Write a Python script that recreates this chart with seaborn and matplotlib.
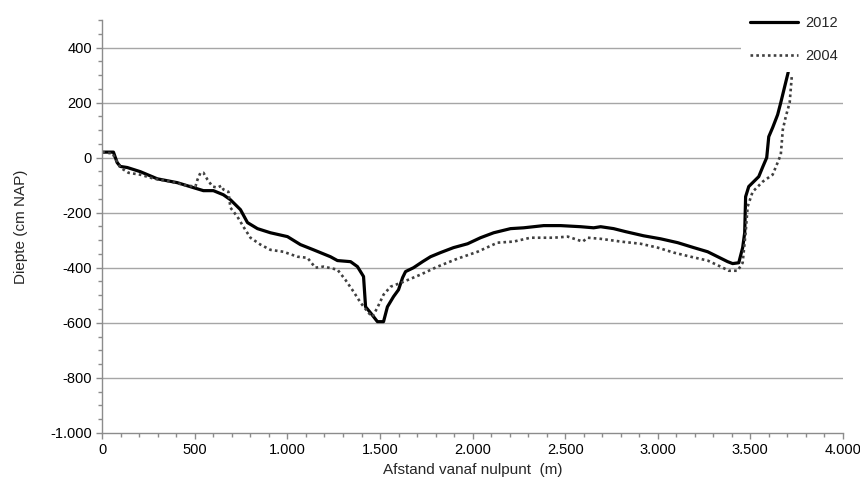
import numpy as np
import pandas as pd
import matplotlib.pyplot as plt
import matplotlib.ticker as mticker
import seaborn as sns

# Profiel 2012 (afstand m, diepte cm NAP)
x_2012 = [0, 60, 80, 97, 135, 205, 297, 405, 492, 546, 600, 654, 692, 746, 784, 838,
          908, 1000, 1070, 1141, 1232, 1270, 1341, 1378, 1411, 1422, 1449, 1486, 1519,
          1540, 1573, 1600, 1622, 1638, 1681, 1730, 1773, 1827, 1897, 1973, 2043, 2114,
          2205, 2276, 2384, 2476, 2584, 2654, 2692, 2762, 2827, 2924, 3016, 3108, 3195,
          3270, 3324, 3378, 3405, 3438, 3459, 3470, 3475, 3492, 3519, 3546, 3568, 3589,
          3600, 3621, 3648, 3665, 3686, 3705]
y_2012 = [20, 20, -18, -32, -36, -51, -77, -91, -109, -120, -120, -135, -153, -189, -236, -258,
          -273, -287, -316, -335, -360, -374, -378, -396, -432, -542, -564, -596, -596,
          -542, -505, -480, -436, -414, -400, -378, -360, -345, -327, -313, -291, -273,
          -258, -255, -247, -247, -251, -255, -251, -258, -269, -284, -295, -309, -327,
          -342, -360, -378, -385, -382, -327, -273, -142, -105, -87, -69, -33, 0,
          76, 109, 156, 200, 258, 310]

# Profiel 2004
x_2004 = [0, 55, 97, 141, 205, 276, 368, 459, 503, 514, 530, 546, 568, 595, 622, 643,
          654, 681, 692, 730, 762, 800, 854, 908, 978, 1054, 1108, 1151, 1195, 1270,
          1313, 1357, 1395, 1438, 1459, 1486, 1519, 1557, 1627, 1719, 1811, 1919, 2027,
          2135, 2222, 2313, 2438, 2514, 2595, 2622, 2692, 2800, 2908, 3000, 3086, 3178,
          3270, 3340, 3384, 3432, 3459, 3475, 3486, 3513, 3568, 3621, 3648, 3665, 3676,
          3692, 3713, 3725]
y_2004 = [20, 15, -36, -55, -62, -76, -87, -102, -105, -80, -55, -55, -80, -105, -109, -102,
          -116, -124, -182, -215, -251, -291, -316, -335, -342, -360, -364, -400, -396, -407,
          -444, -487, -527, -564, -578, -545, -498, -469, -451, -425, -396, -367, -342,
          -309, -305, -291, -291, -287, -305, -291, -295, -305, -313, -327, -345, -360,
          -374, -396, -411, -411, -382, -273, -178, -124, -87, -62, -18, 11, 102,
          149, 200, 300]

df = pd.concat([
    pd.DataFrame({'afstand': x_2012, 'diepte': y_2012, 'jaar': '2012'}),
    pd.DataFrame({'afstand': x_2004, 'diepte': y_2004, 'jaar': '2004'}),
])

sns.set_style('white')
plt.rcParams['font.family'] = ['Liberation Sans', 'DejaVu Sans']

fig = plt.figure(figsize=(8.6, 4.88), dpi=100)
ax = fig.add_axes([0.119, 0.113, 0.861, 0.846])

sns.lineplot(data=df, x='afstand', y='diepte', hue='jaar', style='jaar',
             hue_order=['2012', '2004'], palette={'2012': 'black', '2004': '#404040'},
             dashes={'2012': '', '2004': (1, 1.2)}, sort=False, estimator=None,
             ax=ax, legend=False)
for line, lw in zip(ax.lines, [2.3, 1.9]):
    line.set_linewidth(lw)

ax.set_xlim(0, 4000)
ax.set_ylim(-1000, 500)
ax.xaxis.set_major_locator(mticker.MultipleLocator(500))
ax.xaxis.set_minor_locator(mticker.MultipleLocator(100))
ax.yaxis.set_major_locator(mticker.FixedLocator(np.arange(-1000, 401, 200)))
ax.yaxis.set_minor_locator(mticker.MultipleLocator(50))
fmt = mticker.FuncFormatter(lambda v, p: f'{int(v):,}'.replace(',', '.'))
ax.xaxis.set_major_formatter(fmt)
ax.yaxis.set_major_formatter(fmt)

# horizontale rasterlijnen
for v in np.arange(-800, 401, 200):
    ax.axhline(v, color='#a6a6a6', lw=1, zorder=0)

for s in ['top', 'right']:
    ax.spines[s].set_visible(False)
for s in ['left', 'bottom']:
    ax.spines[s].set_color('#8c8c8c')
    ax.spines[s].set_linewidth(1)
ax.tick_params(which='both', direction='out', color='#8c8c8c', length=4, width=1,
               left=True, bottom=True, labelsize=10.5, labelcolor='black')
ax.tick_params(which='minor', length=3)

ax.set_xlabel('Afstand vanaf nulpunt  (m)', fontsize=11, labelpad=4)
ax.set_ylabel('Diepte (cm NAP)', fontsize=11, labelpad=16)

handles = [plt.Line2D([], [], color='black', lw=2.3),
           plt.Line2D([], [], color='#404040', lw=1.9, dashes=(1, 1.2))]
leg = fig.legend(handles, ['2012', '2004'], loc='upper right',
                 bbox_to_anchor=(0.993, 1.0), frameon=True, fontsize=10.5,
                 handlelength=3.3, labelspacing=1.3, handletextpad=0.5,
                 borderpad=0.6)
leg.get_frame().set_facecolor('white')
leg.get_frame().set_edgecolor('none')
leg.get_frame().set_alpha(1)

fig.savefig('out.png', dpi=100)
